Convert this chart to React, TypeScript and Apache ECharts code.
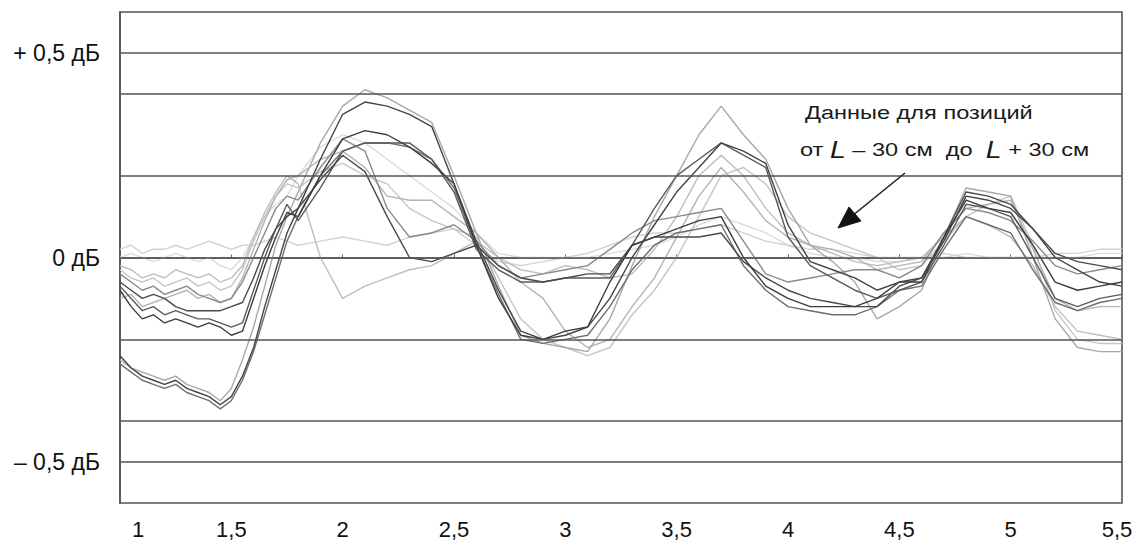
import React, { useEffect, useRef } from "react";
import * as echarts from "echarts";

const X = [
  1.0, 1.05, 1.1, 1.15, 1.2, 1.25, 1.3, 1.35, 1.4, 1.45, 1.5, 1.55, 1.6, 1.65, 1.7, 1.75, 1.8,
  1.9, 2.0, 2.1, 2.2, 2.3, 2.4, 2.5, 2.6, 2.7, 2.8, 2.9, 3.0, 3.1, 3.2, 3.3, 3.4, 3.5, 3.6, 3.7,
  3.8, 3.9, 4.0, 4.1, 4.2, 4.3, 4.4, 4.5, 4.6, 4.7, 4.8, 4.9, 5.0, 5.1, 5.2, 5.3, 5.4, 5.5,
];

const S1 = [-0.24, -0.27, -0.29, -0.3, -0.31, -0.3, -0.32, -0.33, -0.34, -0.36, -0.34, -0.29, -0.22, -0.12, -0.03, 0.06, 0.12,
  0.24, 0.35, 0.38, 0.37, 0.35, 0.32, 0.18, 0.04, -0.08, -0.18, -0.2, -0.19, -0.17, -0.1, 0.0, 0.08, 0.16, 0.22, 0.28,
  0.26, 0.23, 0.08, -0.01, -0.03, -0.05, -0.08, -0.06, -0.05, 0.04, 0.15, 0.14, 0.12, 0.07, 0.0, -0.03, -0.06, -0.07];
const S2 = [-0.25, -0.27, -0.28, -0.29, -0.3, -0.29, -0.31, -0.32, -0.33, -0.35, -0.32, -0.25, -0.17, -0.07, 0.03, 0.1, 0.16,
  0.28, 0.37, 0.41, 0.39, 0.36, 0.33, 0.2, 0.06, -0.07, -0.19, -0.21, -0.22, -0.23, -0.15, -0.02, 0.1, 0.2, 0.3, 0.37,
  0.3, 0.24, 0.12, 0.03, -0.01, -0.06, -0.15, -0.12, -0.08, 0.05, 0.17, 0.16, 0.15, 0.0, -0.15, -0.22, -0.23, -0.23];
const S3 = [-0.08, -0.12, -0.15, -0.14, -0.16, -0.15, -0.16, -0.17, -0.16, -0.17, -0.19, -0.18, -0.1, -0.02, 0.05, 0.11, 0.1,
  0.2, 0.29, 0.31, 0.3, 0.27, 0.23, 0.18, 0.03, -0.1, -0.19, -0.2, -0.18, -0.17, -0.06, 0.03, 0.05, 0.07, 0.09, 0.1,
  0.0, -0.07, -0.1, -0.12, -0.12, -0.12, -0.1, -0.06, -0.06, 0.05, 0.14, 0.12, 0.11, 0.03, -0.06, -0.08, -0.07, -0.06];
const S4 = [-0.07, -0.1, -0.13, -0.12, -0.14, -0.13, -0.14, -0.15, -0.15, -0.16, -0.17, -0.16, -0.08, 0.0, 0.07, 0.13, 0.09,
  0.17, 0.26, 0.28, 0.28, 0.28, 0.24, 0.16, 0.02, -0.03, -0.06, -0.06, -0.05, -0.05, -0.05, 0.03, 0.12, 0.2, 0.24, 0.28,
  0.25, 0.22, 0.05, -0.02, -0.05, -0.08, -0.1, -0.08, -0.06, 0.03, 0.13, 0.12, 0.1, 0.0, -0.1, -0.12, -0.1, -0.09];
const S5 = [-0.06, -0.08, -0.1, -0.09, -0.1, -0.12, -0.13, -0.13, -0.13, -0.13, -0.12, -0.11, -0.05, 0.02, 0.07, 0.1, 0.12,
  0.19, 0.25, 0.21, 0.1, 0.0, -0.01, 0.01, 0.03, -0.02, -0.05, -0.06, -0.05, -0.04, -0.04, 0.03, 0.05, 0.05, 0.05, 0.06,
  -0.01, -0.05, -0.08, -0.1, -0.11, -0.12, -0.12, -0.07, -0.05, 0.05, 0.16, 0.15, 0.13, 0.07, 0.01, -0.01, -0.02, -0.03];
const S6 = [-0.04, -0.06, -0.08, -0.07, -0.09, -0.08, -0.07, -0.09, -0.1, -0.11, -0.1, -0.06, 0.0, 0.06, 0.12, 0.15, 0.14,
  0.22, 0.29, 0.26, 0.12, 0.05, 0.06, 0.08, 0.04, -0.02, -0.05, -0.04, -0.03, -0.02, 0.02, 0.06, 0.09, 0.1, 0.11, 0.12,
  0.04, -0.04, -0.06, -0.05, -0.04, -0.03, -0.03, -0.05, -0.02, 0.06, 0.12, 0.11, 0.09, 0.04, -0.02, -0.04, -0.03, -0.02];
const S7 = [-0.02, -0.03, -0.05, -0.04, -0.05, -0.03, -0.04, -0.05, -0.04, -0.06, -0.05, -0.02, 0.05, 0.11, 0.16, 0.2, 0.18,
  0.0, -0.1, -0.07, -0.05, -0.03, -0.02, 0.01, 0.04, 0.0, -0.03, -0.04, -0.02, -0.03, -0.05, -0.04, 0.02, 0.1, 0.2, 0.25,
  0.2, 0.12, 0.06, 0.03, 0.01, -0.01, -0.02, -0.01, 0.0, 0.05, 0.1, 0.08, 0.05, -0.02, -0.12, -0.18, -0.19, -0.2];
const S8 = [0.02, 0.03, 0.01, 0.02, 0.02, 0.03, 0.02, 0.03, 0.04, 0.03, 0.02, 0.03, 0.03, 0.04, 0.05, 0.04, 0.03,
  0.04, 0.05, 0.04, 0.03, 0.05, 0.06, 0.07, 0.03, -0.01, -0.02, -0.01, 0.0, 0.01, 0.03, 0.05, 0.06, 0.06, 0.07, 0.08,
  0.06, 0.04, 0.03, 0.02, 0.02, 0.01, 0.0, 0.0, 0.0, 0.01, 0.0, 0.0, 0.0, 0.0, 0.01, 0.01, 0.02, 0.02];
const S9 = [-0.1, -0.09, -0.12, -0.11, -0.1, -0.09, -0.08, -0.1, -0.09, -0.11, -0.1, -0.05, 0.02, 0.09, 0.15, 0.19, 0.2,
  0.24, 0.26, 0.22, 0.15, 0.14, 0.14, 0.1, 0.06, 0.0, -0.06, -0.1, -0.18, -0.22, -0.2, -0.12, -0.05, 0.05, 0.15, 0.22,
  0.16, 0.09, 0.05, 0.03, 0.02, 0.0, -0.03, -0.02, -0.01, 0.06, 0.12, 0.13, 0.14, 0.02, -0.1, -0.13, -0.12, -0.12];
const S10 = [-0.26, -0.28, -0.3, -0.31, -0.32, -0.31, -0.33, -0.34, -0.35, -0.37, -0.35, -0.3, -0.23, -0.14, -0.05, 0.04, 0.1,
  0.2, 0.26, 0.28, 0.28, 0.27, 0.24, 0.17, 0.03, -0.09, -0.2, -0.21, -0.2, -0.19, -0.12, -0.03, 0.03, 0.06, 0.07, 0.08,
  -0.02, -0.08, -0.12, -0.13, -0.14, -0.14, -0.12, -0.08, -0.07, 0.02, 0.1, 0.08, 0.06, -0.03, -0.11, -0.13, -0.11, -0.1];
const S11 = [-0.03, -0.05, -0.06, -0.05, -0.07, -0.06, -0.05, -0.07, -0.06, -0.08, -0.07, -0.03, 0.04, 0.1, 0.15, 0.18, 0.17,
  0.21, 0.23, 0.2, 0.18, 0.12, 0.09, 0.07, 0.05, -0.05, -0.15, -0.2, -0.22, -0.24, -0.22, -0.14, -0.08, 0.0, 0.1, 0.2,
  0.22, 0.18, 0.1, 0.06, 0.04, 0.02, 0.0, -0.03, -0.02, 0.04, 0.1, 0.13, 0.15, 0.03, -0.13, -0.2, -0.21, -0.21];
const S12 = [0.0, 0.01, 0.0, -0.01, 0.0, 0.01, 0.0, -0.01, 0.0, -0.02, -0.03, 0.0, 0.05, 0.1, 0.13, 0.15, 0.2,
  0.27, 0.3, 0.28, 0.24, 0.2, 0.16, 0.12, 0.06, 0.01, 0.0, 0.0, 0.0, 0.0, 0.01, 0.02, 0.03, 0.05, 0.08, 0.1,
  0.08, 0.06, 0.03, 0.01, 0.0, 0.0, -0.01, -0.01, 0.0, 0.0, 0.01, 0.0, 0.0, 0.0, 0.0, 0.0, 0.01, 0.01];

// drawn light first, dark on top
const SERIES = [
  { name: "12", values: S12, color: "#dcdcdc" },
  { name: "8", values: S8, color: "#d2d2d2" },
  { name: "11", values: S11, color: "#c6c6c6" },
  { name: "7", values: S7, color: "#bdbdbd" },
  { name: "9", values: S9, color: "#b4b4b4" },
  { name: "2", values: S2, color: "#a8a8a8" },
  { name: "6", values: S6, color: "#8a8a8a" },
  { name: "10", values: S10, color: "#6e6e6e" },
  { name: "4", values: S4, color: "#5a5a5a" },
  { name: "5", values: S5, color: "#4a4a4a" },
  { name: "3", values: S3, color: "#3c3c3c" },
  { name: "1", values: S1, color: "#444444" },
];

const GRID_LINES = [0.5, 0.4, 0.2, 0, -0.2, -0.4, -0.5];
const Y_LABELS = [
  { v: 0.5, t: "+ 0,5 дБ" },
  { v: 0, t: "0 дБ" },
  { v: -0.5, t: "– 0,5 дБ" },
];
const X_MIN = 1;
const X_MAX = 5.5;
const X_TICKS_FMT = (v: number) => {
  const s = String(v).replace(".", ",");
  if (Math.abs(v - X_MIN) < 1e-6) return `{first|${s}}`;
  if (Math.abs(v - X_MAX) < 1e-6) return `{last|${s}}`;
  return s;
};

const NOTE_LINE1 = "Данные для позиций";
const NOTE_LINE2 = "{a|от }{i|L}{a| – 30 см  до  }{i|L}{a| + 30 см}";

const FONT = "'Liberation Sans', Arial, sans-serif";

export default function App() {
  const ref = useRef<HTMLDivElement>(null);
  useEffect(() => {
    document.body.style.margin = "0";
    const chart = echarts.init(ref.current!, undefined, { renderer: "svg" });
    const gridSeries: any = {
      type: "line",
      data: [],
      silent: true,
      z: 1,
      markLine: {
        silent: true,
        symbol: ["none", "none"],
        label: { show: false },
        lineStyle: { color: "#555", width: 1.7, type: "solid" },
        data: GRID_LINES.map((v) => ({ yAxis: v })),
      },
    };
    const lineSeries = SERIES.map((s) => ({
      type: "line",
      name: s.name,
      data: X.map((x, i) => [x, s.values[i]]),
      showSymbol: false,
      symbol: "none",
      z: 2,
      lineStyle: { color: s.color, width: 1.4 },
      itemStyle: { color: s.color },
    }));
    chart.setOption({
      animation: false,
      backgroundColor: "#ffffff",
      grid: {
        left: 120,
        right: 22,
        top: 12,
        bottom: 40,
        show: true,
        borderColor: "#555",
        borderWidth: 1.6,
        backgroundColor: "transparent",
      },
      xAxis: {
        type: "value",
        min: X_MIN,
        max: X_MAX,
        interval: 0.5,
        axisLine: { show: true, lineStyle: { color: "#555", width: 1.6 } },
        axisTick: { show: true, inside: true, length: 3, lineStyle: { color: "#666" } },
        splitLine: { show: false },
        axisLabel: {
          color: "#111",
          fontSize: 22,
          fontFamily: FONT,
          margin: 15,
          formatter: X_TICKS_FMT,
          rich: {
            first: { fontSize: 22, fontFamily: FONT, color: "#111", padding: [0, 0, 0, 36] },
            last: { fontSize: 22, fontFamily: FONT, color: "#111", padding: [0, 10, 0, 0] },
          },
        },
      },
      yAxis: {
        type: "value",
        min: -0.6,
        max: 0.6,
        interval: 0.1,
        axisLine: { show: true, lineStyle: { color: "#555", width: 1.6 } },
        axisTick: { show: false },
        splitLine: { show: false },
        axisLabel: {
          color: "#111",
          fontSize: 23,
          fontFamily: FONT,
          margin: 20,
          formatter: (v: number) => {
            const f = Y_LABELS.find((l) => Math.abs(l.v - v) < 1e-6);
            return f ? f.t : "";
          },
        },
      },
      series: [gridSeries, ...lineSeries],
      graphic: [
        {
          type: "text",
          x: 805,
          y: 103,
          z: 10,
          scaleX: 1.24,
          style: { text: NOTE_LINE1, font: `19px ${FONT}`, fill: "#1a1a1a" },
        },
        {
          type: "text",
          x: 800,
          y: 138,
          z: 10,
          scaleX: 1.24,
          style: {
            text: NOTE_LINE2,
            fill: "#1a1a1a",
            rich: {
              a: { fontSize: 19, fontFamily: FONT, fill: "#1a1a1a" },
              i: { fontSize: 23, fontFamily: FONT, fontStyle: "italic", fill: "#1a1a1a" },
            },
          },
        },
        {
          type: "line",
          z: 10,
          shape: { x1: 905, y1: 173, x2: 852, y2: 216 },
          style: { stroke: "#222", lineWidth: 1.6 },
        },
        {
          type: "polygon",
          z: 10,
          shape: { points: [[838, 228], [849, 207], [861, 221]] },
          style: { fill: "#111", stroke: "#111", lineWidth: 1 },
        },
      ],
    });
    return () => chart.dispose();
  }, []);
  return <div ref={ref} style={{ width: 1144, height: 543 }} />;
}
